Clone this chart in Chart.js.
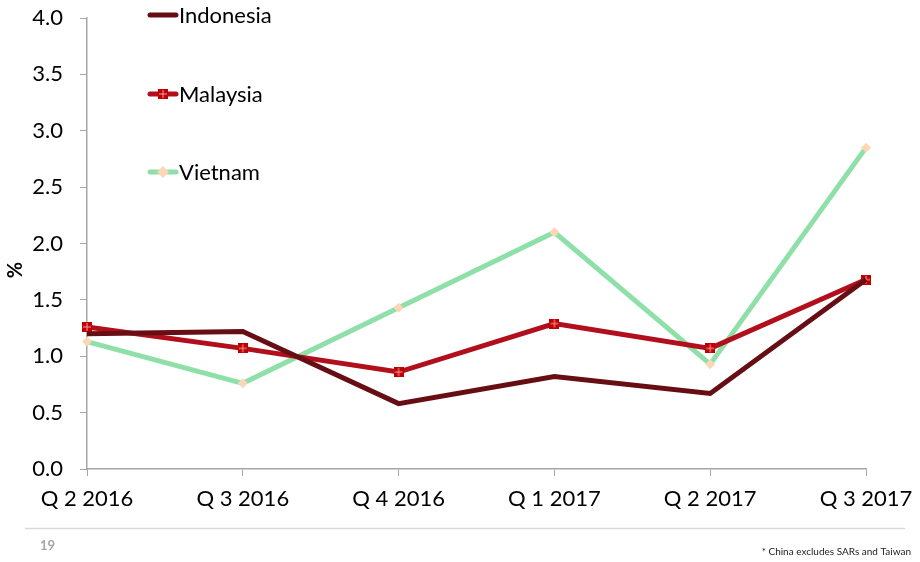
<!DOCTYPE html>
<html>
<head>
<meta charset="utf-8">
<script src="https://cdn.jsdelivr.net/npm/chart.js@4.4.0/dist/chart.umd.min.js"></script>
<style>
  html, body { margin: 0; padding: 0; background: #fff; }
  #wrap { width: 920px; height: 562px; position: relative; }
</style>
</head>
<body>
<div id="wrap"><canvas id="chart"></canvas></div>
<script>
const quarters = ["Q 2 2016", "Q 3 2016", "Q 4 2016", "Q 1 2017", "Q 2 2017", "Q 3 2017"];
const indonesia = [1.20, 1.22, 0.58, 0.82, 0.67, 1.68];
const malaysia = [1.26, 1.07, 0.86, 1.29, 1.07, 1.68];
const vietnam = [1.13, 0.76, 1.43, 2.10, 0.93, 2.85];
const yTicks = [0, 0.5, 1, 1.5, 2, 2.5, 3, 3.5, 4];
const yTitle = "%";
const pageNumber = "19";
const footnote = "* China excludes SARs and Taiwan";

const FONT = "Lato, 'Open Sans', sans-serif";

// square marker with a light cross, like the original
function squareMarker(size) {
  const c = document.createElement("canvas");
  c.width = size; c.height = size;
  const g = c.getContext("2d");
  g.fillStyle = "#C00000";
  g.fillRect(0, 0, size, size);
  g.strokeStyle = "#F2A0A0";
  g.lineWidth = 1;
  g.beginPath();
  g.moveTo(size / 2, 1); g.lineTo(size / 2, size - 1);
  g.moveTo(1, size / 2); g.lineTo(size - 1, size / 2);
  g.stroke();
  return c;
}
const sqMark = squareMarker(10);

function diamond(ctx, x, y, r, color) {
  ctx.fillStyle = color;
  ctx.beginPath();
  ctx.moveTo(x, y - r); ctx.lineTo(x + r, y); ctx.lineTo(x, y + r); ctx.lineTo(x - r, y);
  ctx.closePath();
  ctx.fill();
}

const extras = {
  id: "extras",
  afterDraw(chart) {
    const ctx = chart.ctx;
    ctx.save();
    // legend
    const items = [
      { label: "Indonesia", color: "#670E15", y: 15, mark: null },
      { label: "Malaysia", color: "#B20F1C", y: 94, mark: "sq" },
      { label: "Vietnam", color: "#8EE0A8", y: 172, mark: "dia" }
    ];
    items.forEach(it => {
      ctx.strokeStyle = it.color;
      ctx.lineWidth = 5;
      ctx.lineCap = "round";
      ctx.beginPath();
      ctx.moveTo(150, it.y); ctx.lineTo(176, it.y);
      ctx.stroke();
      if (it.mark === "sq") ctx.drawImage(sqMark, 158, it.y - 5);
      if (it.mark === "dia") diamond(ctx, 163, it.y, 6, "#FCD6B6");
      ctx.fillStyle = "#000";
      ctx.font = "22px " + FONT;
      ctx.textAlign = "left";
      ctx.textBaseline = "middle";
      ctx.fillText(it.label, 179, it.y + 1);
    });
    // y title, sits a bit lower than the axis middle in the original
    ctx.save();
    ctx.translate(16, 270);
    ctx.rotate(-Math.PI / 2);
    ctx.fillStyle = "#000";
    ctx.font = "bold 20px " + FONT;
    ctx.textAlign = "center";
    ctx.textBaseline = "middle";
    ctx.fillText(yTitle, 0, 0);
    ctx.restore();
    // footer
    ctx.strokeStyle = "#D9D9D9";
    ctx.lineWidth = 1.5;
    ctx.lineCap = "butt";
    ctx.beginPath();
    ctx.moveTo(25, 528.5); ctx.lineTo(905, 528.5);
    ctx.stroke();
    ctx.fillStyle = "#A6A6A6";
    ctx.font = "bold 13px " + FONT;
    ctx.textAlign = "left";
    ctx.textBaseline = "alphabetic";
    ctx.fillText(pageNumber, 40, 550);
    ctx.fillStyle = "#222";
    ctx.font = "10px " + FONT;
    ctx.textAlign = "right";
    ctx.fillText(footnote, 911, 555);
    ctx.restore();
  }
};

new Chart(document.getElementById("chart"), {
  type: "line",
  data: {
    labels: quarters,
    datasets: [
      {
        label: "Indonesia", data: indonesia,
        borderColor: "#670E15", borderWidth: 5, pointRadius: 0,
        tension: 0
      },
      {
        label: "Malaysia", data: malaysia,
        borderColor: "#B20F1C", borderWidth: 5,
        pointStyle: sqMark, pointRadius: 5,
        tension: 0
      },
      {
        label: "Vietnam", data: vietnam,
        borderColor: "#8EE0A8", borderWidth: 5,
        pointStyle: "rectRot", pointRadius: 5,
        pointBackgroundColor: "#FCD6B6", pointBorderColor: "#FCD6B6", pointBorderWidth: 0,
        tension: 0
      }
    ]
  },
  options: {
    responsive: true,
    maintainAspectRatio: false,
    animation: false,
    layout: { padding: { left: 0, right: 54, top: 18, bottom: 0 } },
    plugins: { legend: { display: false }, tooltip: { enabled: false } },
    scales: {
      x: {
        offset: false,
        grid: { display: true, drawOnChartArea: false, color: "#A6A6A6", tickLength: 7 },
        border: { color: "#A6A6A6", width: 1.5 },
        ticks: { color: "#000", font: { size: 22, family: FONT }, padding: 10, maxRotation: 0, autoSkip: false },
        afterFit(s) { s.height = 93; s.paddingLeft = 0; s.paddingRight = 0; }
      },
      y: {
        min: 0, max: 4,
        afterBuildTicks(s) { s.ticks = yTicks.map(v => ({ value: v })); },
        grid: { display: true, drawOnChartArea: false, color: "#A6A6A6", tickLength: 7 },
        border: { color: "#A6A6A6", width: 1.5 },
        ticks: { color: "#000", font: { size: 22, family: FONT }, padding: 17,
          callback: v => Number(v).toFixed(1) },
        afterFit(s) { s.width = 87; s.paddingTop = 0; s.paddingBottom = 0; }
      }
    }
  },
  plugins: [extras]
});
</script>
</body>
</html>
